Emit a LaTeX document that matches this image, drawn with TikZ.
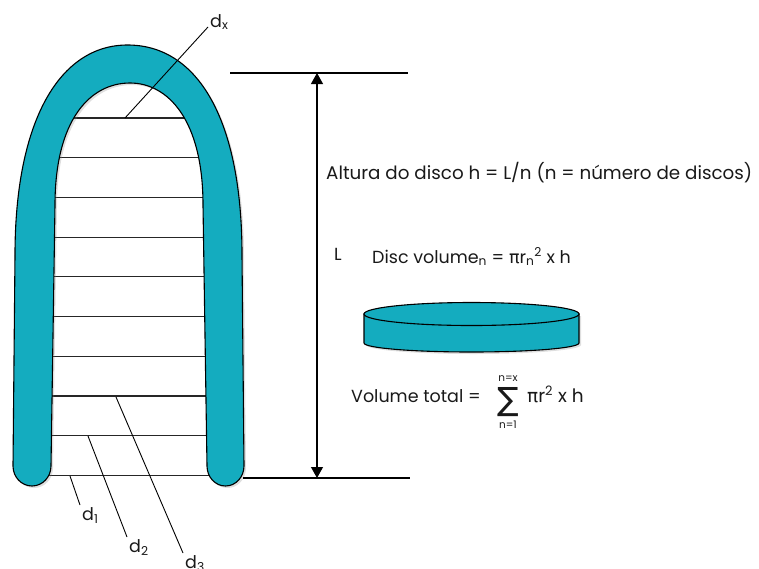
\documentclass[tikz,border=0pt]{standalone}
\usepackage{fontspec}
\setmainfont{Poppins}
\newfontfamily\greekfont{DejaVu Sans}
\usetikzlibrary{arrows.meta, positioning, shadows}
\definecolor{discteal}{RGB}{20,172,191}

\begin{document}
\begin{tikzpicture}[
    x=1pt, y=-1pt,
    band/.style={draw=black, line width=1.1pt, fill=discteal, drop shadow={opacity=0.25, shadow xshift=2pt, shadow yshift=-2pt}},
    slice/.style={line width=1.2pt, black!85},
    leader/.style={line width=0.9pt},
    dim/.style={line width=1.1pt},
    lbl/.style={font=\fontsize{17.5}{17.5}\selectfont, inner sep=2pt, text=black!90},
    txt/.style={font=\fontsize{17.5}{17.5}\selectfont, inner sep=0pt, text=black!90},
    small/.style={font=\fontsize{10.5}{10.5}\selectfont, inner sep=0pt, text=black!90}
]
\useasboundingbox (0,0) rectangle (759,568);

% Slices of the cavity
\foreach \i in {0,...,9}
    \draw[slice] (45,{118+39.7*\i}) -- (212,{118+39.7*\i});

% U-shaped wall
\draw[band] (13,466) -- (15,255)
    .. controls (15,120) and (60,45) .. (127.5,45)
    .. controls (198,45) and (242,120) .. (242,255)
    -- (244,466) arc[start angle=0, end angle=180, x radius=18.5, y radius=20]
    -- (203,205)
    .. controls (203,120) and (168,83) .. (130,83)
    .. controls (90,83) and (55,120) .. (55,205)
    -- (51,466) arc[start angle=0, end angle=180, x radius=19, y radius=20]
    -- cycle;

% Diameter labels
\coordinate (px) at (125,118);
\coordinate (p1) at (70,476);
\coordinate (p2) at (88,436);
\coordinate (p3) at (116,397);
\node[lbl, anchor=base west] (dx) at (208,27) {d\textsubscript{x}};
\node[lbl, anchor=north west] (d1) at (80,505) {d\textsubscript{1}};
\node[lbl, anchor=north west] (d2) at (127,537) {d\textsubscript{2}};
\node[lbl, anchor=north west] (d3) at (183,553) {d\textsubscript{3}};
\draw[leader] (px) -- (dx.base west);
\draw[leader] (p1) -- (d1.north west);
\draw[leader] (p2) -- (d2.north west);
\draw[leader] (p3) -- (d3.north west);

% Length L
\coordinate (topL) at (230,73);
\coordinate (topR) at (408,73);
\coordinate (botL) at (243,478);
\coordinate (botR) at (410,478);
\coordinate (topA) at (317,73);
\coordinate (botA) at (317,478);
\draw[dim] (topL) -- (topR);
\draw[dim] (botL) -- (botR);
\draw[dim, {Triangle[length=11pt, width=12pt]}-{Triangle[length=11pt, width=12pt]}] (topA) -- (botA);
\node[txt, anchor=base west] (len) at (334,260) {L};

% Formulas
\node[txt, anchor=base west, font=\fontsize{18.3}{18.3}\selectfont] (height) at (326,179.5) {Altura do disco h = L/n (n = número de discos)};
\node[txt, anchor=base west] (discvol) at (372,263) {Disc volume\textsubscript{n} = {\greekfont π}r\textsubscript{n}\textsuperscript{2} x h};

% One disc
\draw[band] (364,314) -- (364,343) arc[start angle=180, end angle=0, x radius=107.5, y radius=9] -- (579,314) -- cycle;
\draw[draw=black, line width=1.1pt, fill=discteal] (471.5,314) ellipse[x radius=107.5, y radius=11.5];

\node[txt, anchor=base west] (voltot) at (351,402) {Volume total =};
\node[inner sep=0pt, font=\greekfont\fontsize{32}{32}\selectfont, text=black!90] (sigma) at (508,402) {∑};
\node[small, above=6pt of sigma] (sumtop) {n=x};
\node[small, below=4pt of sigma] (sumbot) {n=1};
\node[txt, anchor=base west, font=\fontsize{18.5}{18.5}\selectfont] (pirh) at (527,402) {{\greekfont π}r\textsuperscript{2} x h};
\end{tikzpicture}
\end{document}
